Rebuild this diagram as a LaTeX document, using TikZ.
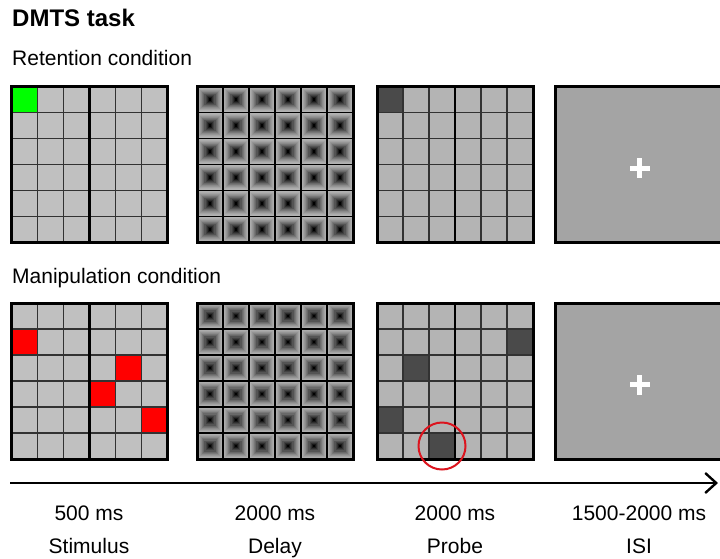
\documentclass[tikz,border=0pt]{standalone}
\usepackage{fontspec}
\setmainfont{Liberation Sans}
\usetikzlibrary{arrows.meta}
\definecolor{stimgray}{RGB}{192,192,192}
\definecolor{probegray}{RGB}{180,180,180}
\definecolor{darkcell}{RGB}{74,74,74}
\definecolor{isigray}{RGB}{164,164,164}
\definecolor{gridline}{RGB}{50,50,50}
\definecolor{greencell}{RGB}{0,255,0}
\definecolor{redcell}{RGB}{255,0,0}
\definecolor{circred}{RGB}{220,20,30}
\tikzset{
  thingrid/.style={draw=gridline, line width=1.4pt},
  midline/.style={draw=black, line width=2.6pt},
  outerline/.style={draw=black, line width=3pt},
  delayline/.style={draw=black, line width=1.5pt},
  label/.style={font=\fontsize{21}{25}\selectfont, inner sep=0pt, anchor=base},
  heading/.style={font=\fontsize{21}{25}\selectfont, inner sep=0pt, anchor=base west},
  titletext/.style={font=\bfseries\fontsize{24}{28}\selectfont, inner sep=0pt, anchor=base west},
  timeline/.style={draw=black, line width=2.4pt, -{Straight Barb[length=11pt,width=20pt,line width=2.4pt]}},
  probecircle/.style={draw=circred, line width=2pt},
}
\newcommand\gsz{156}
\newcommand\csz{26}
% base fill
\newcommand\gridbase[3]{\fill[#3] (#1,#2) rectangle ++(\gsz,\gsz);}
% one cell: x0 y0 col row color
\newcommand\cellfill[5]{\fill[#5] ({#1+#3*\csz},{#2+#4*\csz}) rectangle ++(\csz,\csz);}
% grid lines
\newcommand\gridlines[3]{%
  \foreach \i in {1,...,5} {
    \draw[#3] ({#1+\i*\csz},#2) -- ++(0,\gsz);
    \draw[#3] (#1,{#2+\i*\csz}) -- ++(\gsz,0);
  }
  \draw[midline] ({#1+3*\csz},#2) -- ++(0,\gsz);
  \draw[outerline] (#1,#2) rectangle ++(\gsz,\gsz);
}
% delay grid
\newcommand\delaygrid[2]{%
  \foreach \c in {0,...,5} {
    \foreach \r in {0,...,5} {
      \foreach \k in {0,...,11} {
        \pgfmathsetmacro\p{int(30+70*(\k/11)^1.4)}
        \fill[black!\p] ({#1+\c*\csz+\k*1.07},{#2+\r*\csz+\k*1.07}) rectangle ({#1+(\c+1)*\csz-\k*1.07},{#2+(\r+1)*\csz-\k*1.07});
      }
    }
  }
  \gridlines{#1}{#2}{delayline}
}
% ISI panel: x0 y0
\newcommand\isipanel[2]{%
  \fill[isigray] (#1,#2) rectangle ++(180,\gsz);
  \draw[outerline] (#1+180,#2) -- (#1,#2) -- ++(0,\gsz) -- ++(180,0);
  \fill[white] ({#1+74},{#2+79}) rectangle ++(20,5);
  \fill[white] ({#1+81.5},{#2+71.5}) rectangle ++(5,20);
}
\begin{document}
\begin{tikzpicture}[x=1pt,y=-1pt]
\useasboundingbox (0,0) rectangle (720,558);
\clip (0,0) rectangle (720,558);
\fill[white] (0,0) rectangle (720,558);

% headings
\node[titletext] (title) at (12,26) {DMTS task};
\node[heading] (retention) at (12,65) {Retention condition};
\node[heading] (manipulation) at (12,283) {Manipulation condition};

% ---------- Retention row ----------
\gridbase{11.5}{86.5}{stimgray}
\cellfill{11.5}{86.5}{0}{0}{greencell}
\gridlines{11.5}{86.5}{thingrid}

\delaygrid{197}{86.5}

\gridbase{377}{86.5}{probegray}
\cellfill{377}{86.5}{0}{0}{darkcell}
\gridlines{377}{86.5}{thingrid}

\isipanel{555.5}{86.5}

% ---------- Manipulation row ----------
\gridbase{11.5}{303}{stimgray}
\cellfill{11.5}{303}{0}{1}{redcell}
\cellfill{11.5}{303}{4}{2}{redcell}
\cellfill{11.5}{303}{3}{3}{redcell}
\cellfill{11.5}{303}{5}{4}{redcell}
\gridlines{11.5}{303}{thingrid}

\delaygrid{197}{303}

\gridbase{377}{303}{probegray}
\cellfill{377}{303}{5}{1}{darkcell}
\cellfill{377}{303}{1}{2}{darkcell}
\cellfill{377}{303}{0}{4}{darkcell}
\cellfill{377}{303}{2}{5}{darkcell}
\gridlines{377}{303}{thingrid}

\isipanel{555.5}{303}

\node[probecircle, circle, minimum size=47pt, inner sep=0pt] (probering) at (442,446) {};

% ---------- time line ----------
\coordinate (tstart) at (10,483);
\coordinate (tend) at (718,483);
\draw[timeline] (tstart) -- (tend);

\node[label] (d1) at (89,520) {500 ms};
\node[label] (d2) at (275,520) {2000 ms};
\node[label] (d3) at (455,520) {2000 ms};
\node[label] (d4) at (639,520) {1500-2000 ms};

\node[label] (p1) at (89,553) {Stimulus};
\node[label] (p2) at (275,553) {Delay};
\node[label] (p3) at (455,553) {Probe};
\node[label] (p4) at (639,553) {ISI};
\end{tikzpicture}
\end{document}
